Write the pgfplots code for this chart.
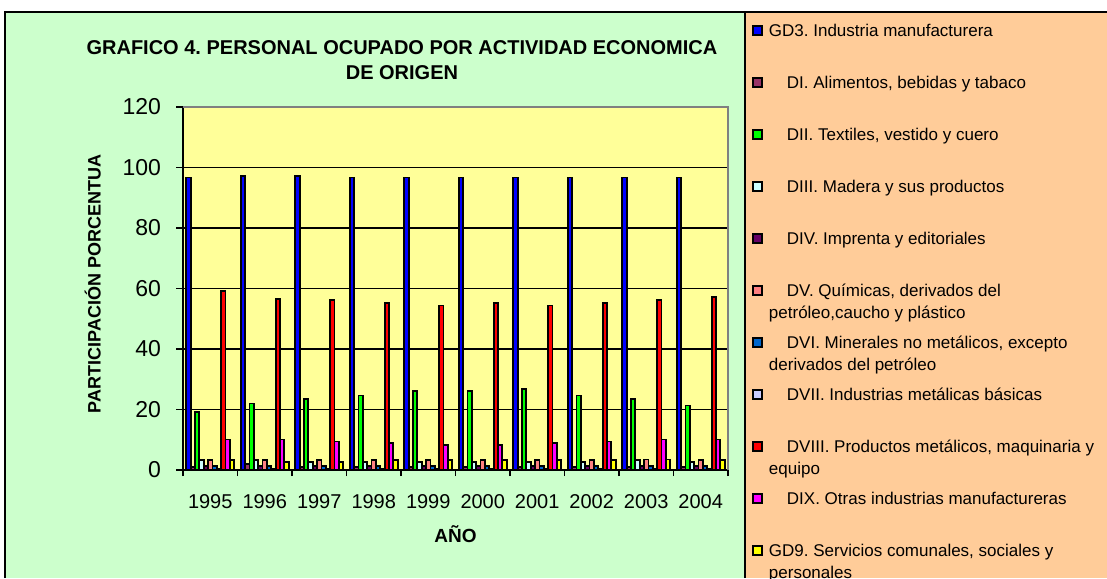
\documentclass[border=0pt]{standalone}
\usepackage{fontspec}
\setmainfont{Liberation Sans}
\usepackage{pgfplots}
\usepackage{pgfplotstable}
\pgfplotsset{compat=1.18}
\frenchspacing
\definecolor{cGD3}{HTML}{0000FF}
\definecolor{cDI}{HTML}{993366}
\definecolor{cDII}{HTML}{00FF00}
\definecolor{cDIII}{HTML}{CCFFFF}
\definecolor{cDIV}{HTML}{660066}
\definecolor{cDV}{HTML}{FF8080}
\definecolor{cDVI}{HTML}{0066CC}
\definecolor{cDVII}{HTML}{CCCCFF}
\definecolor{cDVIII}{HTML}{FF0000}
\definecolor{cDIX}{HTML}{FF00FF}
\definecolor{cGD9}{HTML}{FFFF00}
\definecolor{chartbg}{HTML}{CCFFCC}
\definecolor{plotbg}{HTML}{FFFF99}
\definecolor{legbg}{HTML}{FFCC99}

% participacion porcentual por año (0 = 1995 ... 9 = 2004)
\pgfplotstableread{
x GD3  DI  DII  DIII DIV DV  DVI DVII DVIII DIX  GD9
0 96.7 1.0 19.3 3.3  1.3 3.3 1.3 0.5  59.1  10.1 3.3
1 97.3 2.0 22.0 3.3  1.3 3.3 1.3 0.4  56.4  10.1 2.7
2 97.3 1.0 23.4 2.7  1.3 3.3 1.3 0.5  56.3  9.4  2.7
3 96.7 1.0 24.6 2.7  1.3 3.3 1.3 0.5  55.1  8.8  3.3
4 96.7 1.0 26.0 2.7  1.3 3.3 1.3 0.5  54.4  8.2  3.3
5 96.7 1.0 26.0 2.7  1.3 3.3 1.3 0.5  55.1  8.2  3.3
6 96.7 1.0 26.7 2.7  1.3 3.3 1.3 0.5  54.4  8.8  3.3
7 96.7 1.0 24.6 2.7  1.3 3.3 1.3 0.5  55.1  9.4  3.3
8 96.7 1.0 23.5 3.3  1.3 3.5 1.3 0.5  56.3  10.1 3.5
9 96.7 1.0 21.3 2.7  1.3 3.3 1.3 0.5  57.1  10.1 3.3
}\datos

\pgfplotsset{barra/.style={fill=#1, draw=black, line width=0.9pt}}

\begin{document}
\begin{tikzpicture}
\useasboundingbox (-91.5pt,-54pt) rectangle (462pt,235pt);
\fill[chartbg] (-89pt,-54pt) rectangle (281pt,229pt);
\fill[legbg] (281pt,-54pt) rectangle (462pt,229pt);
\draw[black, line width=1pt] (-89pt,-54pt) -- (-89pt,229pt) -- (462pt,229pt);
\draw[black, line width=0.8pt] (281pt,-54pt) -- (281pt,229pt);

\begin{axis}[
    scale only axis,
    width=272.5pt, height=181.5pt,
    at={(0pt,0pt)}, anchor=south west,
    ybar=0pt, bar width=2.18pt,
    xmin=-0.5, xmax=9.5, ymin=0, ymax=120,
    xtick={0,...,9},
    xticklabels={1995,1996,1997,1998,1999,2000,2001,2002,2003,2004},
    minor xtick={-0.5,0.5,...,9.5},
    ytick={0,20,...,120},
    tick align=outside,
    major tick length=3.5pt, minor tick length=3pt,
    major x tick style={draw=none},
    minor x tick style={black, line width=0.6pt},
    ytick style={black, line width=0.6pt},
    ymajorgrids, grid style={black, line width=0.6pt},
    axis x line*=bottom, axis y line*=left,
    axis line style={black, line width=0.8pt, -},
    axis background/.style={fill=plotbg},
    /pgf/number format/assume math mode=true,
    xticklabel style={font=\fontsize{10}{12}\selectfont, yshift=-5pt},
    yticklabel style={font=\fontsize{11.5}{13}\selectfont, xshift=-4pt},
    title={GRAFICO 4. PERSONAL OCUPADO POR ACTIVIDAD ECONOMICA\\DE ORIGEN},
    title style={at={(axis description cs:0.4018,1.095)}, anchor=center,
                 align=center, font=\fontsize{10}{12.5}\selectfont\bfseries},
    xlabel={AÑO},
    xlabel style={at={(axis description cs:0.5,-0.176)}, anchor=center,
                  font=\fontsize{9.5}{11}\selectfont\bfseries},
    ylabel={PARTICIPACIÓN PORCENTUA},
    ylabel style={at={(axis description cs:-0.1655,0.512)}, anchor=center,
                  font=\fontsize{9}{11}\selectfont\bfseries},
    legend cell align=left,
    legend image code/.code={\draw[#1, draw=black, line width=0.9pt] (0pt,6.8pt) rectangle (4.4pt,11.2pt);},
    legend style={at={(1.044,1.234)}, anchor=north west, draw=none, fill=none,
                  inner sep=0pt, row sep=0pt, column sep=3pt,
                  font=\fontsize{8.5}{11}\selectfont,
                  nodes={inner sep=0pt, text height=7pt, text depth=19pt}},
    clip=false,
]
\addplot[barra=cGD3] table[x=x, y=GD3] {\datos};
\addplot[barra=cDI] table[x=x, y=DI] {\datos};
\addplot[barra=cDII] table[x=x, y=DII] {\datos};
\addplot[barra=cDIII] table[x=x, y=DIII] {\datos};
\addplot[barra=cDIV] table[x=x, y=DIV] {\datos};
\addplot[barra=cDV] table[x=x, y=DV] {\datos};
\addplot[barra=cDVI] table[x=x, y=DVI] {\datos};
\addplot[barra=cDVII] table[x=x, y=DVII] {\datos};
\addplot[barra=cDVIII] table[x=x, y=DVIII] {\datos};
\addplot[barra=cDIX] table[x=x, y=DIX] {\datos};
\addplot[barra=cGD9] table[x=x, y=GD9] {\datos};
\addlegendentry{\parbox[t]{172pt}{\raggedright GD3. Industria manufacturera}}
\addlegendentry{\parbox[t]{172pt}{\raggedright\hspace*{9pt}DI. Alimentos, bebidas y tabaco}}
\addlegendentry{\parbox[t]{172pt}{\raggedright\hspace*{9pt}DII. Textiles, vestido y cuero}}
\addlegendentry{\parbox[t]{172pt}{\raggedright\hspace*{9pt}DIII. Madera y sus productos}}
\addlegendentry{\parbox[t]{172pt}{\raggedright\hspace*{9pt}DIV. Imprenta y editoriales}}
\addlegendentry{\parbox[t]{172pt}{\raggedright\hspace*{9pt}DV. Químicas, derivados del\\petróleo,caucho y plástico}}
\addlegendentry{\parbox[t]{172pt}{\raggedright\hspace*{9pt}DVI. Minerales no metálicos, excepto\\derivados del petróleo}}
\addlegendentry{\parbox[t]{172pt}{\raggedright\hspace*{9pt}DVII. Industrias metálicas básicas}}
\addlegendentry{\parbox[t]{172pt}{\raggedright\hspace*{9pt}DVIII. Productos metálicos, maquinaria y\\equipo}}
\addlegendentry{\parbox[t]{172pt}{\raggedright\hspace*{9pt}DIX. Otras industrias manufactureras}}
\addlegendentry{\parbox[t]{172pt}{\raggedright GD9. Servicios comunales, sociales y\\personales}}
\draw[gray, line width=0.8pt] (rel axis cs:0,1) -- (rel axis cs:1,1) -- (rel axis cs:1,0);
\end{axis}
\end{tikzpicture}
\end{document}
